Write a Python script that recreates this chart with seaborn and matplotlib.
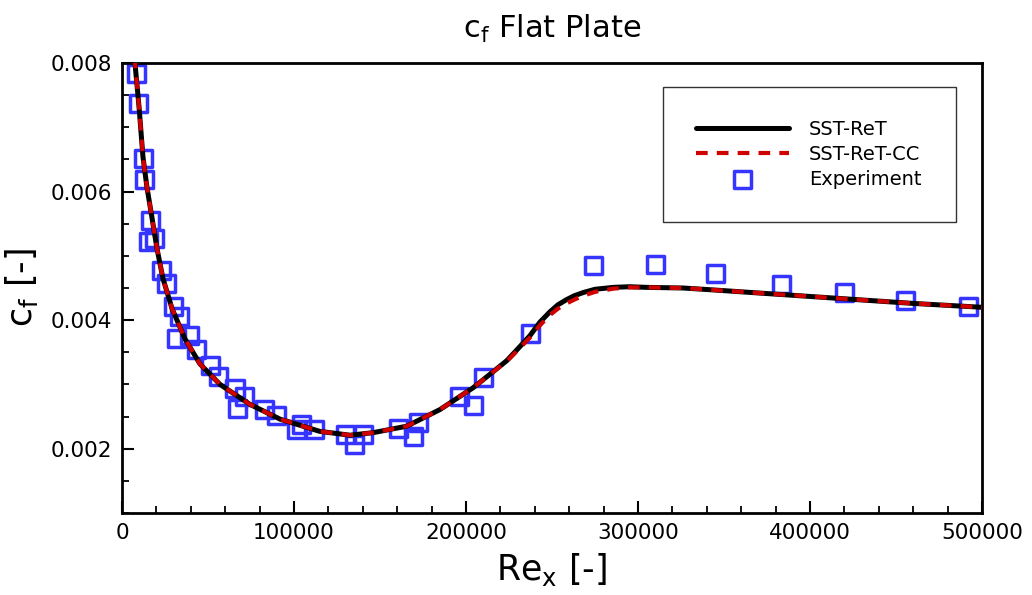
import matplotlib
matplotlib.use("Agg")
import matplotlib.pyplot as plt
import matplotlib.ticker as mticker
import pandas as pd
import seaborn as sns

# SST-ReT model curve
re_sst = [7200, 9900, 12200, 14500, 17400, 20300, 23800, 29100, 36600, 45300,
          57000, 74400, 91900, 115000, 132600, 146000, 165500, 184900, 204200,
          214000, 223700, 230000, 237200, 243000, 248800, 253500, 258500, 263000,
          268200, 275000, 285600, 295000, 305000, 326300, 343800, 382600, 421300,
          460100, 500000]
cf_sst = [0.00810, 0.00732, 0.00654, 0.00607, 0.00560, 0.00512, 0.00465, 0.00418,
          0.00371, 0.00332, 0.00300, 0.00269, 0.00246, 0.00227, 0.00221, 0.00225,
          0.00235, 0.00261, 0.00295, 0.00316, 0.00337, 0.00355, 0.00376, 0.00397,
          0.00413, 0.00424, 0.00432, 0.00438, 0.00443, 0.00448, 0.00451, 0.00452,
          0.00451, 0.00450, 0.00447, 0.00440, 0.00433, 0.00426, 0.00420]

# SST-ReT-CC curve (slightly lower at end of transition)
cf_cc = [0.00810, 0.00732, 0.00654, 0.00607, 0.00560, 0.00512, 0.00465, 0.00418,
         0.00371, 0.00332, 0.00300, 0.00269, 0.00246, 0.00227, 0.00221, 0.00225,
         0.00235, 0.00261, 0.00295, 0.00316, 0.00336, 0.00353, 0.00373, 0.00392,
         0.00408, 0.00418, 0.00426, 0.00432, 0.00438, 0.00444, 0.00449, 0.00451,
         0.00451, 0.00450, 0.00447, 0.00440, 0.00433, 0.00426, 0.00420]

# experiment
re_exp = [8540, 9500, 12400, 13000, 16700, 15300, 18800, 23100, 25600, 30200,
          33300, 31800, 39500, 43400, 51200, 56000, 65700, 71500, 67000, 82700,
          89900, 101600, 104500, 112200, 130000, 140300, 134900, 160700, 172300,
          169400, 196500, 204200, 210100, 237600, 274400, 310200, 345300, 383500,
          420000, 455600, 492000]
cf_exp = [0.00783, 0.00737, 0.00651, 0.00619, 0.00555, 0.00522, 0.00527, 0.00478,
          0.00457, 0.00421, 0.00405, 0.00372, 0.00376, 0.00355, 0.00329, 0.00313,
          0.00293, 0.00282, 0.00263, 0.00261, 0.00251, 0.00230, 0.00238, 0.00230,
          0.00222, 0.00222, 0.00206, 0.00232, 0.00241, 0.00219, 0.00281, 0.00268,
          0.00311, 0.00379, 0.00485, 0.00487, 0.00472, 0.00456, 0.00443, 0.00430,
          0.00422]

sst = pd.DataFrame({"Re": re_sst, "cf": cf_sst})
cc = pd.DataFrame({"Re": re_sst, "cf": cf_cc})
exp = pd.DataFrame({"Re": re_exp, "cf": cf_exp})

sns.set_style("ticks")
plt.rcParams["font.family"] = ["DejaVu Sans"]
plt.rcParams["mathtext.fontset"] = "dejavusans"
plt.rcParams["text.color"] = "black"
plt.rcParams["axes.labelcolor"] = "black"
plt.rcParams["xtick.color"] = "black"
plt.rcParams["ytick.color"] = "black"

fig = plt.figure(figsize=(10.32, 5.95), dpi=100)
ax = fig.add_axes([0.1182, 0.1378, 0.8334, 0.7563])

sns.scatterplot(data=exp, x="Re", y="cf", ax=ax, marker="s", s=150,
                facecolor="none", edgecolor="#3535ff", linewidth=2.5,
                label="Experiment", zorder=2)
sns.lineplot(data=sst, x="Re", y="cf", ax=ax, color="black", lw=3.6,
             label="SST-ReT", sort=False, zorder=3)
sns.lineplot(data=cc, x="Re", y="cf", ax=ax, color="#d00000", lw=3.0,
             label="SST-ReT-CC", sort=False, zorder=4)
ax.lines[-1].set_dashes((2.8, 2.2))

ax.set_xlim(0, 500000)
ax.set_ylim(0.001, 0.008)
ax.xaxis.set_major_locator(mticker.MultipleLocator(100000))
ax.xaxis.set_minor_locator(mticker.MultipleLocator(20000))
ax.yaxis.set_major_locator(mticker.MultipleLocator(0.002))
ax.yaxis.set_minor_locator(mticker.MultipleLocator(0.0005))
ax.xaxis.set_major_formatter(mticker.FormatStrFormatter("%d"))
ax.yaxis.set_major_formatter(mticker.FormatStrFormatter("%.3f"))
ax.tick_params(which="major", direction="in", length=8.5, width=1.5,
               labelsize=15.5, pad=7)
ax.tick_params(which="minor", direction="in", length=4.8, width=1.3)
for s in ax.spines.values():
    s.set_linewidth(2.0)
    s.set_color("black")

ax.set_title(r"c$_{\rm f}$ Flat Plate", fontsize=22, pad=18)
ax.set_xlabel(r"Re$_{\rm x}$ [-]", fontsize=25, labelpad=6)
ax.set_ylabel(r"c$_{\rm f}$ [-]", fontsize=25, labelpad=8)

handles, labels = ax.get_legend_handles_labels()
order = [labels.index(k) for k in ["SST-ReT", "SST-ReT-CC", "Experiment"]]
leg = ax.legend([handles[i] for i in order], [labels[i] for i in order],
                loc="upper left", bbox_to_anchor=(0.629, 0.8467, 0.3407, 0.1),
                mode="expand", fontsize=14, frameon=True, fancybox=False,
                edgecolor="black", borderpad=1.7, labelspacing=0.3,
                handlelength=4.8, handletextpad=1.0, borderaxespad=0)
leg.get_frame().set_linewidth(1.0)

fig.savefig("out.png", dpi=100)
